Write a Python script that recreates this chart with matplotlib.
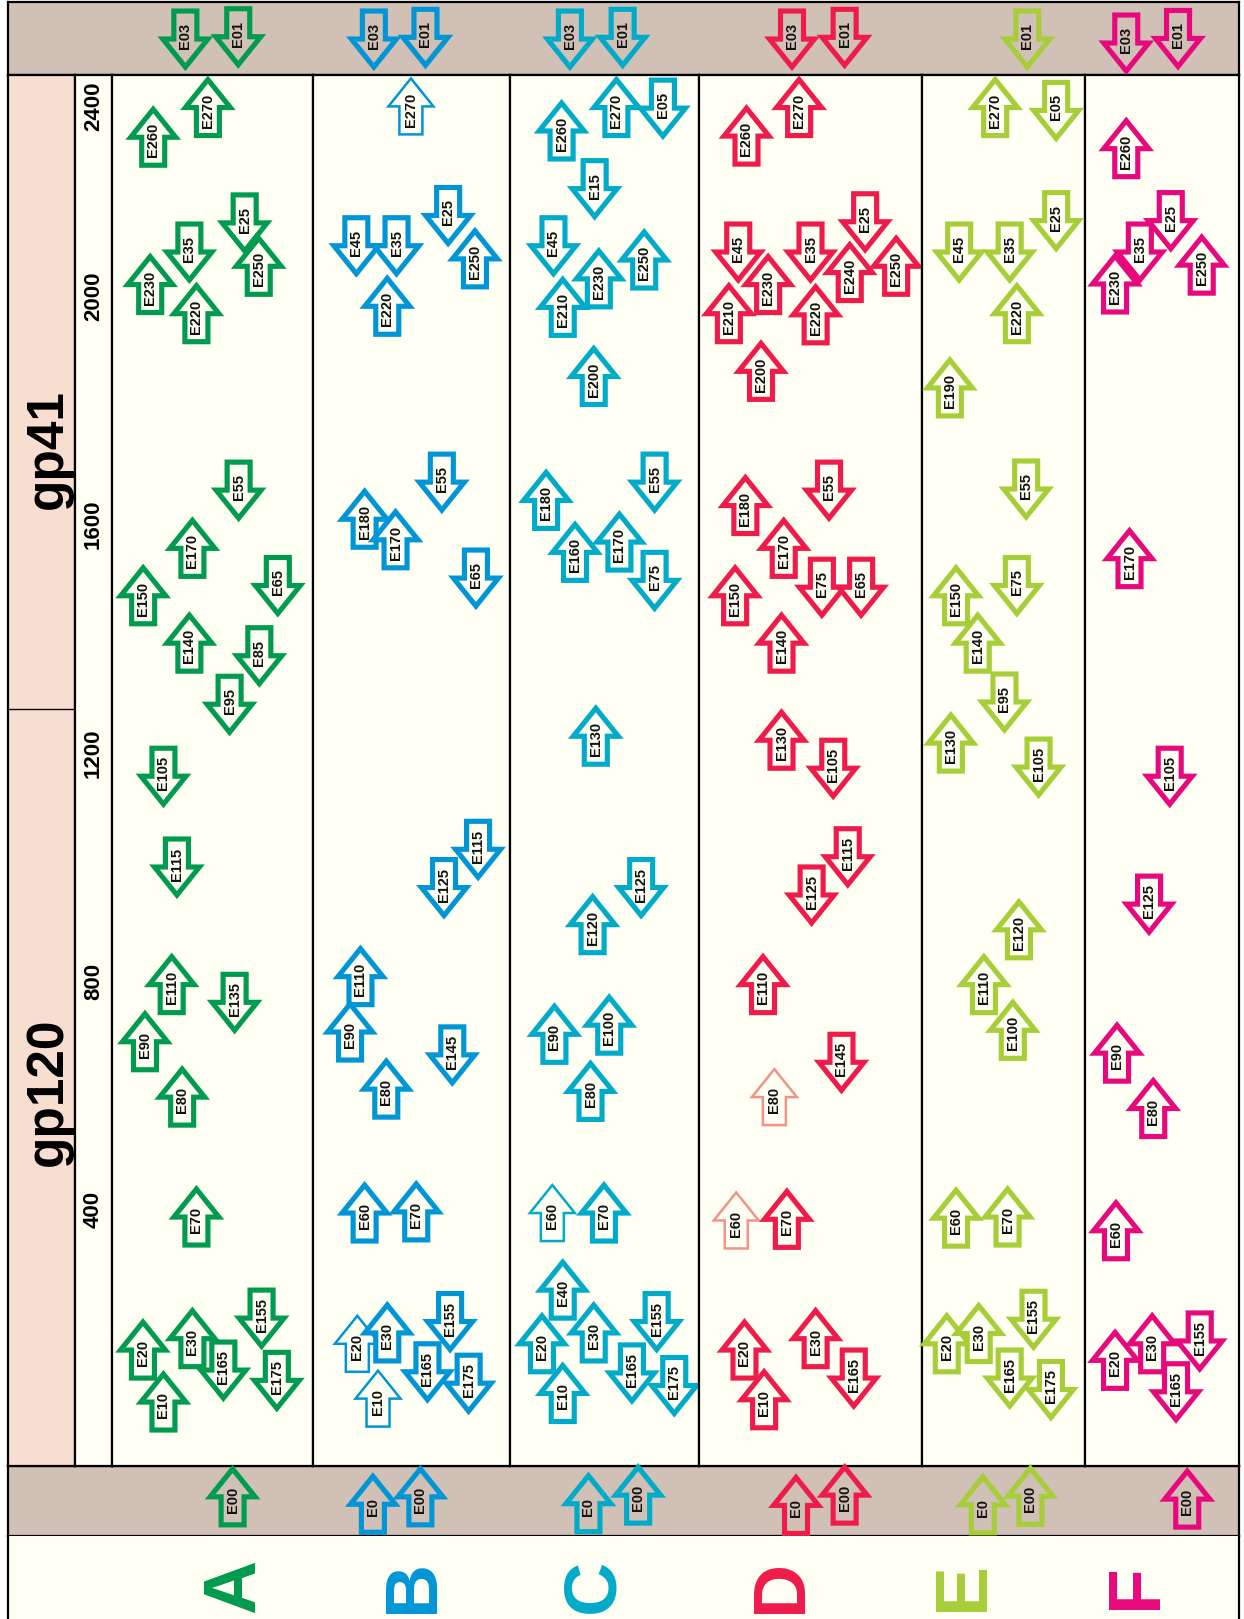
import matplotlib
matplotlib.use("Agg")
import matplotlib.pyplot as plt
from matplotlib import transforms, font_manager
from matplotlib.patches import Polygon

# ---------------- data ----------------
# every arrow: label, position along env (arrow centre), direction (1 = up, -1 = down)
# and the lane it sits in inside its column (0 = left edge, 1 = right edge)
panels = ["A", "B", "C", "D", "E", "F"]

A_labels = ["E03", "E01", "E260", "E270", "E230", "E35", "E220", "E25", "E250", "E55",
            "E170", "E150", "E65", "E140", "E85", "E95", "E105", "E115", "E110", "E135",
            "E90", "E80", "E70", "E20", "E10", "E30", "E165", "E155", "E175", "E00"]
A_pos = [2450, 2454, 2278, 2330, 2020, 2077, 1969, 2128, 2052, 1660,
         1558, 1475, 1493, 1392, 1370, 1285, 1159, 1000, 794, 763,
         694, 597, 387, 154, 63, 174, 119, 210, 101, -103]
A_dir = [-1, -1, 1, 1, 1, -1, 1, -1, 1, -1,
         1, 1, -1, 1, -1, -1, -1, -1, 1, -1,
         1, 1, 1, 1, 1, 1, -1, -1, -1, 1]
A_lane = [0.365, 0.628, 0.205, 0.477, 0.19, 0.385, 0.42, 0.66, 0.73, 0.63,
          0.40, 0.155, 0.825, 0.385, 0.733, 0.585, 0.256, 0.323, 0.297, 0.61,
          0.164, 0.349, 0.42, 0.154, 0.256, 0.40, 0.554, 0.744, 0.82, 0.60]

B_labels = ["E03", "E01", "E270", "E45", "E35", "E25", "E250", "E220", "E55", "E180",
            "E170", "E65", "E115", "E125", "E110", "E90", "E145", "E80", "E60", "E70",
            "E20", "E30", "E10", "E155", "E165", "E175", "E0", "E00"]
B_pos = [2450, 2453, 2332, 2088, 2088, 2141, 2065, 1982, 1674, 1609,
         1573, 1506, 1031, 964, 808, 711, 671, 611, 394, 396,
         165, 184, 69, 204, 116, 96, -116, -103]
B_dir = [-1, -1, 1, -1, -1, -1, 1, 1, -1, 1,
         1, -1, -1, -1, 1, 1, -1, 1, 1, 1,
         1, 1, 1, -1, -1, -1, 1, 1]
B_lane = [0.309, 0.571, 0.497, 0.22, 0.424, 0.686, 0.822, 0.377, 0.654, 0.262,
          0.419, 0.827, 0.838, 0.665, 0.241, 0.188, 0.707, 0.372, 0.262, 0.524,
          0.225, 0.377, 0.33, 0.696, 0.581, 0.79, 0.304, 0.545]

C_labels = ["E03", "E01", "E260", "E270", "E05", "E15", "E45", "E230", "E210", "E250",
            "E200", "E180", "E55", "E160", "E170", "E75", "E130", "E125", "E120", "E90",
            "E100", "E80", "E60", "E70", "E40", "E20", "E30", "E10", "E155", "E165",
            "E175", "E0", "E00"]
C_pos = [2450, 2453, 2289, 2330, 2329, 2188, 2088, 2030, 1980, 2063,
         1859, 1642, 1674, 1551, 1569, 1502, 1229, 964, 899, 707,
         723, 607, 394, 394, 259, 165, 184, 78, 204, 114,
         92, -115, -100]
C_dir = [-1, -1, 1, 1, -1, -1, -1, 1, 1, 1,
         1, 1, -1, 1, 1, -1, 1, -1, 1, 1,
         1, 1, 1, 1, 1, 1, 1, 1, -1, -1,
         -1, 1, 1]
C_lane = [0.317, 0.596, 0.273, 0.563, 0.809, 0.448, 0.23, 0.47, 0.279, 0.71,
          0.443, 0.191, 0.765, 0.344, 0.579, 0.765, 0.454, 0.694, 0.437, 0.235,
          0.525, 0.426, 0.224, 0.497, 0.279, 0.169, 0.443, 0.279, 0.776, 0.645,
          0.869, 0.415, 0.678]

D_labels = ["E03", "E01", "E260", "E270", "E45", "E35", "E25", "E230", "E210", "E220",
            "E240", "E250", "E200", "E55", "E180", "E170", "E150", "E75", "E65", "E140",
            "E130", "E105", "E115", "E125", "E110", "E145", "E80", "E60", "E70", "E20",
            "E10", "E30", "E165", "E0", "E00"]
D_pos = [2450, 2453, 2280, 2330, 2077, 2077, 2130, 2020, 1969, 1967,
         2041, 2052, 1868, 1660, 1633, 1558, 1475, 1490, 1490, 1392,
         1222, 1173, 1018, 951, 794, 658, 597, 381, 383, 154,
         67, 174, 105, -118, -100]
D_dir = [-1, -1, 1, 1, -1, -1, -1, 1, 1, 1,
         1, 1, 1, -1, 1, 1, 1, -1, -1, 1,
         1, -1, -1, -1, 1, -1, 1, 1, 1, 1,
         1, 1, -1, 1, 1]
D_lane = [0.417, 0.653, 0.213, 0.449, 0.176, 0.5, 0.745, 0.31, 0.134, 0.523,
          0.676, 0.884, 0.278, 0.583, 0.208, 0.38, 0.162, 0.551, 0.727, 0.37,
          0.37, 0.602, 0.667, 0.505, 0.287, 0.639, 0.338, 0.167, 0.394, 0.204,
          0.292, 0.523, 0.694, 0.435, 0.653]

E_labels = ["E01", "E270", "E05", "E45", "E35", "E25", "E220", "E190", "E55", "E150",
            "E75", "E140", "E95", "E130", "E105", "E120", "E110", "E100", "E60", "E70",
            "E20", "E30", "E155", "E165", "E175", "E0", "E00"]
E_pos = [2450, 2330, 2325, 2077, 2077, 2132, 1969, 1839, 1662, 1475,
         1493, 1392, 1289, 1217, 1175, 890, 794, 714, 385, 387,
         165, 183, 208, 105, 85, -117, -102]
E_dir = [-1, 1, -1, -1, -1, -1, 1, 1, -1, 1,
         -1, 1, -1, 1, -1, 1, 1, 1, 1, 1,
         1, 1, -1, -1, -1, 1, 1]
E_lane = [0.646, 0.449, 0.823, 0.228, 0.538, 0.823, 0.582, 0.171, 0.639, 0.209,
          0.582, 0.342, 0.506, 0.177, 0.715, 0.595, 0.38, 0.557, 0.209, 0.525,
          0.152, 0.348, 0.684, 0.538, 0.791, 0.373, 0.665]

F_labels = ["E03", "E01", "E260", "E230", "E35", "E25", "E250", "E170", "E105", "E125",
            "E90", "E80", "E60", "E20", "E30", "E155", "E165", "E00"]
F_pos = [2443, 2451, 2258, 2021, 2077, 2132, 2054, 1540, 1159, 935,
         674, 577, 363, 136, 165, 170, 81, -107]
F_dir = [-1, -1, 1, 1, -1, -1, 1, 1, -1, -1,
         1, 1, 1, 1, 1, -1, -1, 1]
F_lane = [0.268, 0.604, 0.268, 0.195, 0.356, 0.557, 0.758, 0.289, 0.55, 0.416,
          0.208, 0.443, 0.201, 0.195, 0.436, 0.745, 0.591, 0.664]

tick_vals = [400, 800, 1200, 1600, 2000, 2400]
gp_boundary = 1276
gp_labels = ["gp120", "gp41"]
gp_label_pos = [607, 1732]

# drawn with a thin outline / pale colour in the original
thin_arrows = {("B", "E270"), ("B", "E20"), ("B", "E10"), ("C", "E60"),
               ("D", "E60"), ("D", "E80")}
pale_arrows = {("D", "E60"), ("D", "E80")}

# ---------------- style ----------------
colors = {"A": "#009B4E", "B": "#0096D6", "C": "#00ABC9",
          "D": "#EE1B4B", "E": "#A7CE39", "F": "#E8087D"}
PALE_D = "#F2928A"
CREAM = "#FFFFF3"
PINK = "#F8DDD1"
BAND = "#D0C0B6"

names = {f.name for f in font_manager.fontManager.ttflist}
if "Liberation Sans Narrow" in names:
    NARROW, TICK_FS = "Liberation Sans Narrow", 21
else:
    NARROW, TICK_FS = "Liberation Sans", 16
plt.rcParams["font.family"] = ["Liberation Sans", "DejaVu Sans"]

W, H = 1244, 1619
Y0, Y1 = -49, 2387
col_edges = [112, 313, 510, 699, 922, 1085, 1239]
letter_x = [235, 413, 594, 781, 963, 1136]

# arrow shape in pixels
L, HL, HW, SW = 56, 28, 22.5, 11.5

fig = plt.figure(figsize=(W / 100, H / 100), dpi=100)
fig.patch.set_facecolor("white")


def box(x0, y0, x1, y1):
    return [x0 / W, 1 - y1 / H, (x1 - x0) / W, (y1 - y0) / H]


def frame(ax, fc, lw=1.6):
    ax.set_facecolor(fc)
    ax.set_xticks([])
    ax.set_yticks([])
    for s in ax.spines.values():
        s.set_linewidth(lw)
        s.set_color("black")


def draw_arrow(ax, x, y, d, label, color, lw, fc, z):
    b = L / 2 - HL
    verts = [(0, d * L / 2), (HW, d * b), (SW, d * b), (SW, -d * L / 2),
             (-SW, -d * L / 2), (-SW, d * b), (-HW, d * b)]
    tr = transforms.Affine2D().scale(fig.dpi / 100) + \
        transforms.ScaledTranslation(x, y, ax.transData)
    p = Polygon(verts, closed=True, transform=tr, fc=fc, ec=color, lw=lw,
                joinstyle="miter", clip_on=False, zorder=z)
    ax.add_patch(p)
    ax.annotate(label, (x, y), xytext=(0, -3 * d), textcoords="offset pixels",
                rotation=90, ha="center", va="center", fontsize=10.5,
                fontweight="bold", color="#111111", annotation_clip=False,
                zorder=z + 0.5)


# bands, side columns
ax_top = fig.add_axes(box(8, 2, 1239, 75), zorder=1)
frame(ax_top, BAND)
ax_bot = fig.add_axes(box(8, 1466, 1239, 1536), zorder=1)
frame(ax_bot, BAND)
ax_let = fig.add_axes(box(8, 1536, 1239, 1619), zorder=1)
frame(ax_let, CREAM)
ax_let.spines["bottom"].set_visible(False)
ax_let.spines["top"].set_visible(False)
ax_let.set_xlim(8, 1239)
ax_let.set_ylim(0, 1)
for p, lx in zip(panels, letter_x):
    ax_let.text(lx, 0.40, p, rotation=90, ha="center", va="center",
                fontsize=54, fontweight="bold", color=colors[p])

ax_pink = fig.add_axes(box(8, 75, 75, 1466), zorder=1)
frame(ax_pink, PINK)
ax_pink.set_ylim(Y0, Y1)
ax_pink.axhline(gp_boundary, color="black", lw=1.0)
trp = transforms.blended_transform_factory(ax_pink.transAxes, ax_pink.transData)
for lab, v in zip(gp_labels, gp_label_pos):
    ax_pink.text(0.6, v, lab, transform=trp, rotation=90, ha="center",
                 va="center", fontsize=37, fontweight="bold")

ax_tick = fig.add_axes(box(75, 75, 112, 1466), zorder=1)
frame(ax_tick, CREAM)
ax_tick.set_ylim(Y0, Y1)
trt = transforms.blended_transform_factory(ax_tick.transAxes, ax_tick.transData)
for t in tick_vals:
    near_top = t > Y1 - 60
    ax_tick.text(0.5, min(t, Y1 - 12), str(t), transform=trt, rotation=90,
                 ha="center", va="top" if near_top else "center",
                 fontsize=TICK_FS, fontweight="bold", family=NARROW)

# the six subtype columns
data = {"A": (A_labels, A_pos, A_dir, A_lane), "B": (B_labels, B_pos, B_dir, B_lane),
        "C": (C_labels, C_pos, C_dir, C_lane), "D": (D_labels, D_pos, D_dir, D_lane),
        "E": (E_labels, E_pos, E_dir, E_lane), "F": (F_labels, F_pos, F_dir, F_lane)}

for i, p in enumerate(panels):
    ax = fig.add_axes(box(col_edges[i], 75, col_edges[i + 1], 1466), zorder=2)
    frame(ax, CREAM)
    ax.set_xlim(0, 1)
    ax.set_ylim(Y0, Y1)
    ax.set_autoscale_on(False)
    labels, pos, dirs, lanes = data[p]
    for k, (lab, v, d, x) in enumerate(zip(labels, pos, dirs, lanes)):
        col = PALE_D if (p, lab) in pale_arrows else colors[p]
        lw = 1.8 if (p, lab) in thin_arrows else 3.7
        fc = CREAM if Y0 <= v <= Y1 else "none"
        draw_arrow(ax, x, v, d, lab, col, lw, fc, 3 + k)

fig.savefig("out.png", dpi=100, facecolor="white")
